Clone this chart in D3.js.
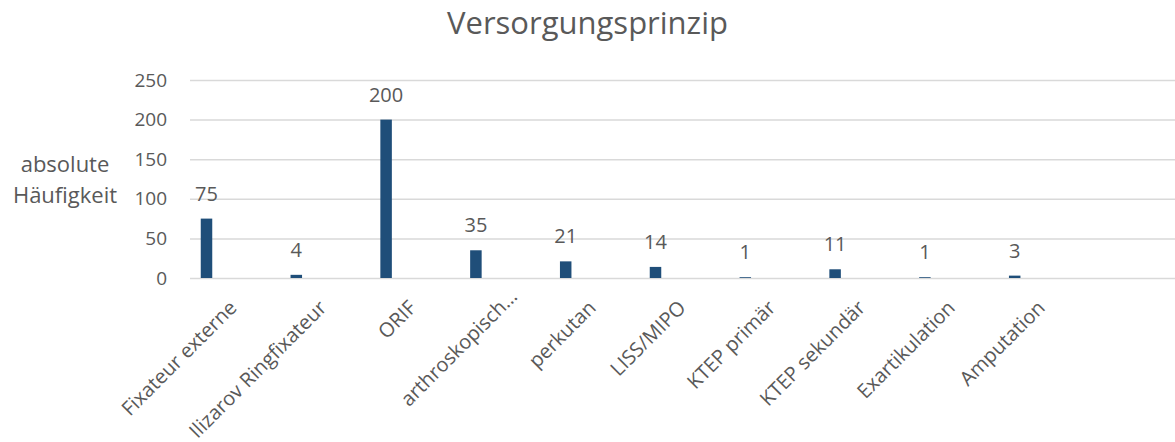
<!DOCTYPE html>
<html>
<head>
<meta charset="utf-8">
<script src="https://cdn.jsdelivr.net/npm/d3@7"></script>
<style>
  body { margin: 0; background: #fff; }
  text { font-family: "Open Sans", sans-serif; fill: #595959; }
</style>
</head>
<body>
<div id="chart"></div>
<script>
// Versorgungsprinzip - absolute Häufigkeit je Verfahren

var categories = ["Fixateur externe", "Ilizarov Ringfixateur", "ORIF", "arthroskopisch…",
                  "perkutan", "LISS/MIPO", "KTEP primär", "KTEP sekundär",
                  "Exartikulation", "Amputation"];
var values = [75, 4, 200, 35, 21, 14, 1, 11, 1, 3];
var yTicks = [0, 50, 100, 150, 200, 250];
var title = "Versorgungsprinzip";
var yTitle = ["absolute", "Häufigkeit"];

var w = 1175;
var h = 442;
var plotLeft = 190, plotRight = 1175, plotTop = 80, plotBottom = 278;
var barWidth = 11.5;

var svg = d3.select("#chart").append("svg")
  .attr("width", w)
  .attr("height", h);

var y = d3.scaleLinear()
  .domain([0, 250])
  .range([plotBottom, plotTop]);

var x = d3.scaleBand()
  .domain(categories)
  .range([plotLeft, 1088])
  .paddingInner(0)
  .paddingOuter(0);

// gridlines + y ticks
var yAxis = svg.append("g")
  .attr("transform", "translate(" + plotLeft + ",0)")
  .call(d3.axisLeft(y).tickValues(yTicks).tickSize(-(plotRight - plotLeft)).tickPadding(23));
yAxis.select(".domain").remove();
yAxis.selectAll(".tick line").attr("stroke", "#d9d9d9").attr("stroke-width", 1.5);
yAxis.selectAll(".tick text")
  .style("font-size", "19px")
  .attr("fill", "#595959");

// bars
svg.selectAll(".bar")
  .data(values)
  .enter()
  .append("rect")
  .attr("class", "bar")
  .attr("x", function(d, i) { return x(categories[i]) + 10.75; })
  .attr("y", function(d) { return y(d); })
  .attr("width", barWidth)
  .attr("height", function(d) { return y(0) - y(d); })
  .style("fill", "#1f4e79");

// data labels
svg.selectAll(".lbl")
  .data(values)
  .enter()
  .append("text")
  .attr("class", "lbl")
  .attr("x", function(d, i) { return x(categories[i]) + 10.75 + barWidth / 2; })
  .attr("y", function(d) { return y(d) - 18; })
  .attr("text-anchor", "middle")
  .style("font-size", "20px")
  .text(function(d) { return d; });

// x axis labels
var xAxis = svg.append("g")
  .attr("transform", "translate(0," + plotBottom + ")")
  .call(d3.axisBottom(x).tickSize(0).tickPadding(0));
xAxis.select(".domain").remove();
xAxis.selectAll(".tick text")
  .attr("text-anchor", "end")
  .attr("dy", 0)
  .attr("y", 0)
  .attr("dx", function(d) { return d.slice(-1) === "…" ? "0.8em" : 0; })
  .attr("fill", "#595959")
  .attr("transform", "translate(3,31) rotate(-45)")
  .style("font-size", "20px");

// title
svg.append("text")
  .attr("x", w / 2)
  .attr("y", 34)
  .attr("text-anchor", "middle")
  .style("font-size", "31px")
  .text(title);

// y axis title
svg.selectAll(".ytitle")
  .data(yTitle)
  .enter()
  .append("text")
  .attr("class", "ytitle")
  .attr("x", 65)
  .attr("y", function(d, i) { return 172 + i * 31; })
  .attr("text-anchor", "middle")
  .style("font-size", "22px")
  .text(function(d) { return d; });
</script>
</body>
</html>
